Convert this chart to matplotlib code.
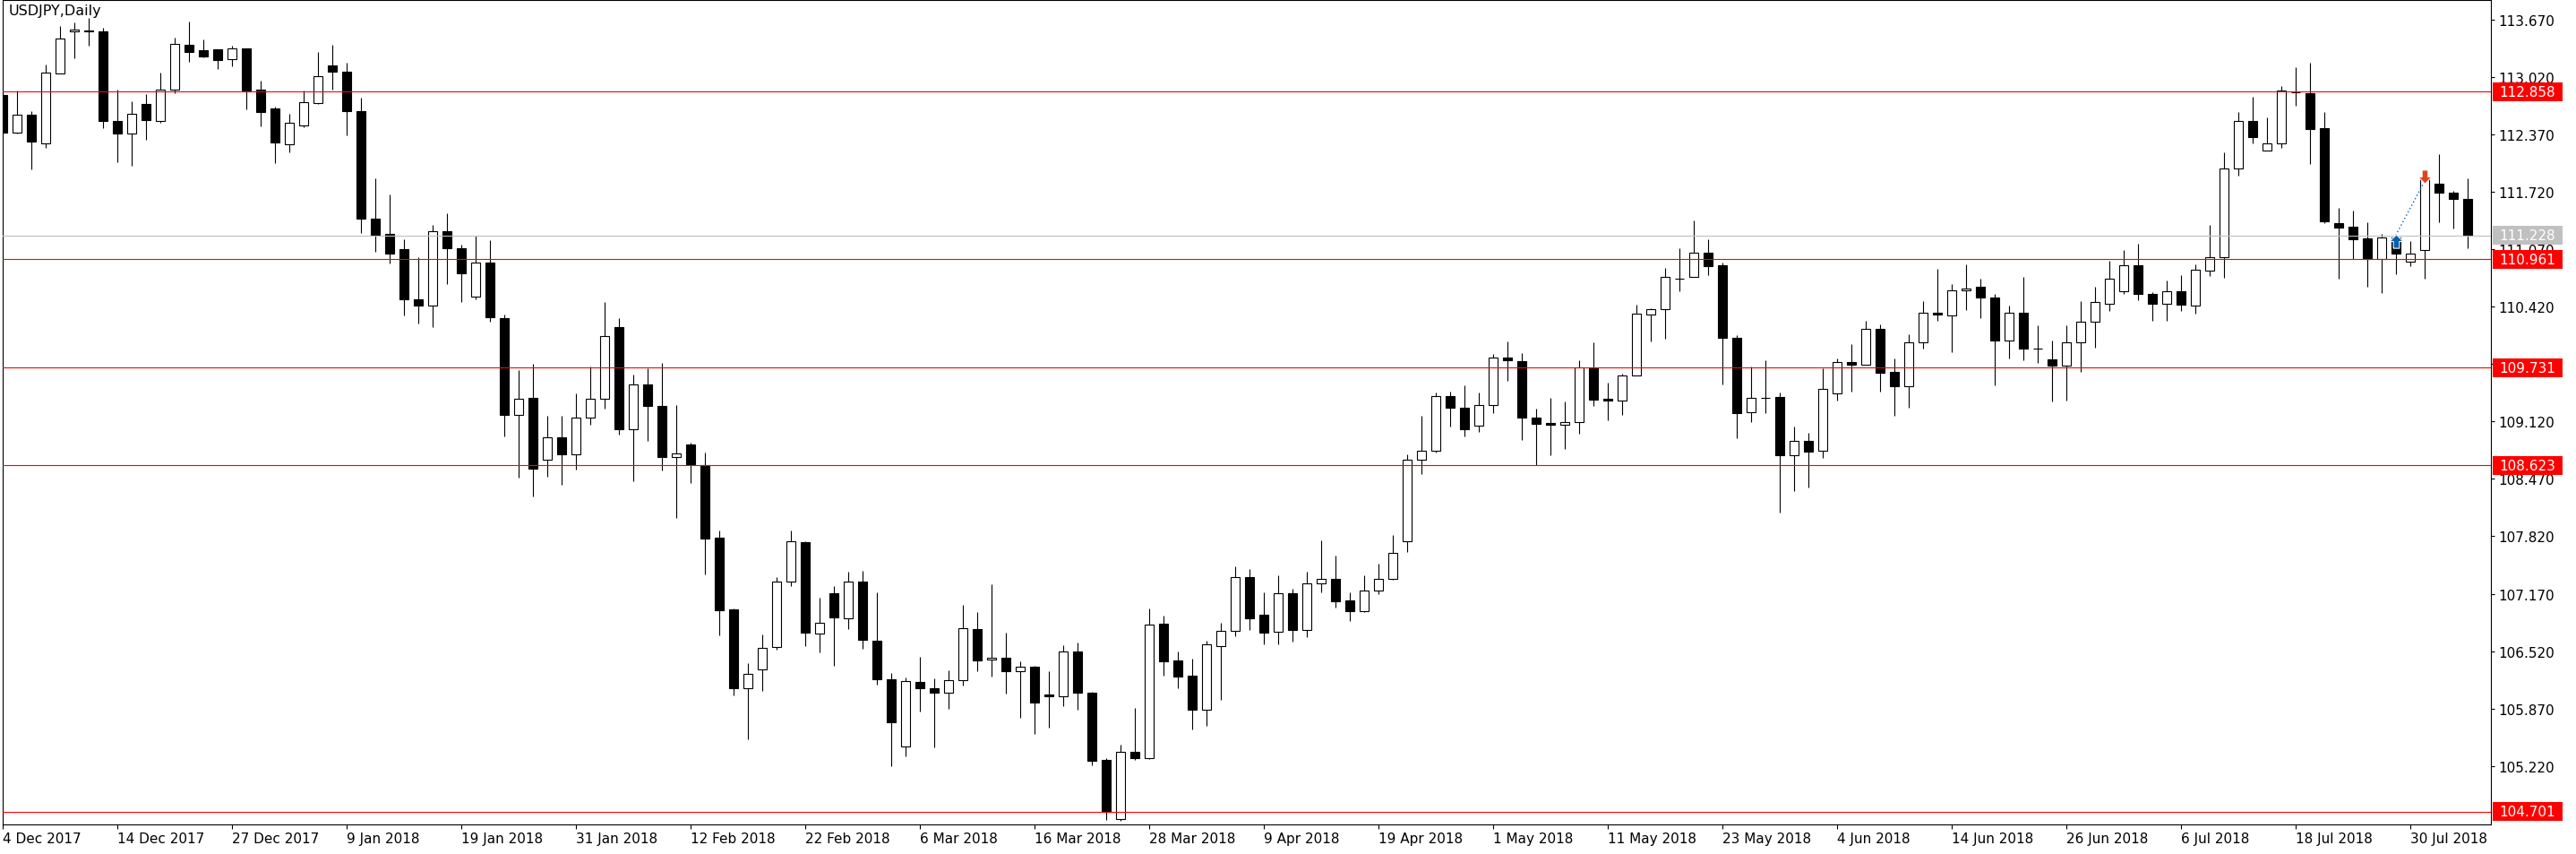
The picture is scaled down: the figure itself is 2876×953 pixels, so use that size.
import matplotlib
matplotlib.use("Agg")
import matplotlib.pyplot as plt
from matplotlib.patches import Rectangle
from matplotlib.path import Path

# ---------------- DATA (USDJPY daily) ---------------- #

opens = [
    112.82, 112.40, 112.60, 112.27, 113.07, 113.54, 113.55, 113.54, 112.53, 112.38,
    112.72, 112.53, 112.88, 113.39, 113.33, 113.34, 113.23, 113.35, 112.88, 112.67,
    112.26, 112.48, 112.73, 113.16, 113.09, 112.64, 111.42, 111.25, 111.07, 110.51,
    110.43, 111.28, 111.08, 110.54, 110.92, 110.29, 109.20, 109.39, 108.69, 108.94,
    108.75, 109.17, 109.38, 110.19, 109.03, 109.54, 109.30, 108.72, 108.86, 108.63,
    107.80, 106.99, 106.10, 106.31, 106.57, 107.31, 107.75, 106.72, 107.18, 106.89,
    107.31, 106.64, 106.20, 105.44, 106.17, 106.10, 106.05, 106.19, 106.77, 106.42,
    106.44, 106.29, 106.34, 106.03, 106.01, 106.51, 106.05, 105.29, 104.62, 105.38,
    105.31, 106.83, 106.41, 106.24, 105.85, 106.58, 106.75, 107.36, 106.93, 106.74,
    107.18, 106.76, 107.29, 107.34, 107.09, 106.97, 107.21, 107.34, 107.76, 108.69,
    108.79, 109.41, 109.28, 109.07, 109.31, 109.85, 109.81, 109.17, 109.10, 109.08,
    109.11, 109.73, 109.38, 109.36, 109.64, 110.33, 110.39, 110.74, 110.76, 111.03,
    110.89, 110.07, 109.23, 109.39, 109.40, 108.74, 108.90, 108.79, 109.44, 109.80,
    109.76, 110.17, 109.68, 109.52, 110.02, 110.35, 110.32, 110.61, 110.65, 110.53,
    110.04, 110.35, 109.95, 109.83, 109.75, 110.02, 110.25, 110.46, 110.60, 110.89,
    110.57, 110.46, 110.60, 110.43, 110.83, 110.98, 111.99, 112.53, 112.19, 112.27,
    112.85, 112.84, 112.45, 111.37, 111.33, 111.20, 110.96, 111.21, 110.93, 111.06,
    111.82, 111.71, 111.64,
]

highs = [
    112.84, 112.87, 112.64, 113.17, 113.60, 113.64, 113.69, 113.58, 112.88, 112.75,
    112.83, 113.08, 113.47, 113.65, 113.45, 113.34, 113.38, 113.35, 112.98, 112.69,
    112.61, 112.87, 113.31, 113.39, 113.19, 112.79, 111.88, 111.69, 111.19, 110.98,
    111.35, 111.48, 111.13, 111.23, 111.18, 110.33, 109.70, 109.77, 109.19, 109.19,
    109.44, 109.74, 110.48, 110.29, 109.65, 109.72, 109.78, 109.31, 108.88, 108.77,
    107.89, 107.00, 106.38, 106.71, 107.36, 107.89, 107.76, 107.12, 107.26, 107.42,
    107.43, 107.19, 106.27, 106.22, 106.45, 106.21, 106.30, 107.04, 106.96, 107.28,
    106.73, 106.40, 106.35, 106.29, 106.59, 106.62, 106.06, 105.31, 105.46, 105.88,
    107.00, 106.92, 106.52, 106.43, 106.64, 106.84, 107.48, 107.45, 107.19, 107.38,
    107.23, 107.42, 107.77, 107.60, 107.19, 107.38, 107.51, 107.84, 108.75, 109.19,
    109.45, 109.46, 109.53, 109.45, 109.89, 110.03, 109.90, 109.27, 109.39, 109.35,
    109.82, 110.02, 109.56, 109.66, 110.45, 110.40, 110.86, 111.08, 111.40, 111.19,
    110.92, 110.10, 109.74, 109.82, 109.45, 109.06, 108.99, 109.72, 109.84, 110.00,
    110.26, 110.22, 109.84, 110.11, 110.49, 110.85, 110.68, 110.90, 110.74, 110.57,
    110.44, 110.76, 110.21, 110.04, 110.21, 110.49, 110.65, 110.94, 111.06, 111.14,
    110.59, 110.72, 110.78, 110.90, 111.35, 112.17, 112.63, 112.80, 112.57, 112.92,
    113.14, 113.19, 112.63, 111.54, 111.51, 111.38, 111.25, 111.24, 111.17, 111.89,
    112.15, 111.73, 111.88,
]

lows = [
    112.38, 112.38, 111.98, 112.22, 113.07, 113.24, 113.38, 112.45, 112.06, 112.02,
    112.31, 112.51, 112.84, 113.20, 113.25, 113.12, 113.15, 112.66, 112.47, 112.05,
    112.17, 112.46, 112.72, 112.88, 112.36, 111.26, 111.04, 110.91, 110.32, 110.23,
    110.19, 110.68, 110.48, 110.51, 110.25, 108.95, 108.49, 108.27, 108.50, 108.40,
    108.58, 109.08, 109.27, 108.97, 108.44, 108.90, 108.57, 108.03, 108.42, 107.39,
    106.70, 106.02, 105.52, 106.07, 106.54, 107.26, 106.58, 106.50, 106.35, 106.77,
    106.55, 106.14, 105.22, 105.33, 105.83, 105.43, 105.86, 106.13, 106.29, 106.23,
    106.04, 105.76, 105.58, 105.65, 105.90, 105.85, 105.23, 104.61, 104.60, 105.29,
    105.30, 106.24, 106.10, 105.63, 105.67, 105.97, 106.69, 106.76, 106.60, 106.60,
    106.63, 106.68, 107.19, 107.01, 106.86, 106.96, 107.16, 107.33, 107.64, 108.53,
    108.77, 109.06, 108.95, 109.00, 109.22, 109.58, 108.91, 108.63, 108.74, 108.81,
    108.98, 109.30, 109.14, 109.20, 109.64, 110.03, 110.06, 110.60, 110.76, 110.78,
    109.54, 108.93, 109.11, 109.22, 108.09, 108.33, 108.37, 108.71, 109.36, 109.46,
    109.76, 109.46, 109.19, 109.28, 109.95, 110.26, 109.91, 110.38, 110.29, 109.53,
    109.84, 109.82, 109.79, 109.35, 109.36, 109.68, 109.96, 110.37, 110.57, 110.50,
    110.26, 110.26, 110.37, 110.34, 110.77, 110.75, 111.91, 112.27, 112.19, 112.22,
    112.70, 112.04, 111.37, 110.74, 110.96, 110.65, 110.58, 110.79, 110.88, 110.74,
    111.38, 111.31, 111.09,
]

closes = [
    112.40, 112.60, 112.29, 113.08, 113.46, 113.56, 113.54, 112.53, 112.38, 112.61,
    112.54, 112.88, 113.40, 113.31, 113.26, 113.22, 113.35, 112.86, 112.63, 112.28,
    112.51, 112.74, 113.03, 113.09, 112.64, 111.42, 111.24, 111.02, 110.51, 110.43,
    111.28, 111.08, 110.80, 110.92, 110.30, 109.20, 109.38, 108.59, 108.94, 108.75,
    109.17, 109.38, 110.09, 109.03, 109.54, 109.30, 108.72, 108.76, 108.64, 107.79,
    106.98, 106.10, 106.26, 106.56, 107.31, 107.76, 106.73, 106.84, 106.90, 107.31,
    106.65, 106.20, 105.71, 106.18, 106.10, 106.05, 106.19, 106.78, 106.41, 106.44,
    106.29, 106.34, 105.94, 106.01, 106.51, 106.05, 105.28, 104.70, 105.38, 105.31,
    106.82, 106.40, 106.23, 105.85, 106.60, 106.75, 107.36, 106.89, 106.73, 107.18,
    106.76, 107.29, 107.34, 107.08, 106.97, 107.21, 107.34, 107.63, 108.69, 108.79,
    109.41, 109.28, 109.03, 109.31, 109.85, 109.82, 109.17, 109.09, 109.08, 109.11,
    109.73, 109.37, 109.36, 109.64, 110.34, 110.39, 110.76, 110.74, 111.03, 110.88,
    110.07, 109.22, 109.39, 109.39, 108.74, 108.90, 108.78, 109.49, 109.80, 109.76,
    110.17, 109.67, 109.52, 110.02, 110.35, 110.33, 110.61, 110.63, 110.53, 110.04,
    110.35, 109.95, 109.95, 109.75, 110.02, 110.25, 110.48, 110.74, 110.89, 110.57,
    110.46, 110.60, 110.45, 110.84, 110.98, 111.99, 112.53, 112.34, 112.27, 112.87,
    112.85, 112.44, 111.39, 111.32, 111.19, 110.96, 111.21, 111.02, 111.02, 111.87,
    111.71, 111.64, 111.228,
]

date_labels = [
    "4 Dec 2017", "14 Dec 2017", "27 Dec 2017", "9 Jan 2018", "19 Jan 2018",
    "31 Jan 2018", "12 Feb 2018", "22 Feb 2018", "6 Mar 2018", "16 Mar 2018",
    "28 Mar 2018", "9 Apr 2018", "19 Apr 2018", "1 May 2018", "11 May 2018",
    "23 May 2018", "4 Jun 2018", "14 Jun 2018", "26 Jun 2018", "6 Jul 2018",
    "18 Jul 2018", "30 Jul 2018",
]

price_ticks = [113.670, 113.020, 112.370, 111.720, 111.070, 110.420, 109.770,
               109.120, 108.470, 107.820, 107.170, 106.520, 105.870, 105.220]

levels = [112.858, 110.961, 109.731, 108.623, 104.701]
bid = 111.228

# trade arrows (bar index, price)
buy_bar, buy_price = 167, 111.17
sell_bar, sell_price = 169, 111.90

# ---------------- FIGURE ---------------- #

W, H = 2876, 954
fig = plt.figure(figsize=(W / 100, H / 100), dpi=100)
plot_l, plot_r, plot_t, plot_b = 2.7, 2780.7, 1.0, 921.0
ax = fig.add_axes([plot_l / W, (H - plot_b) / H, (plot_r - plot_l) / W, (plot_b - plot_t) / H])

n = len(opens)
ax.set_xlim(0, (plot_r - plot_l) / 16)
ax.set_ylim(104.555, 113.898)

# candles
bw = 0.64
for i in range(n):
    o, h, l, c = opens[i], highs[i], lows[i], closes[i]
    ax.vlines(i, l, h, color="black", lw=0.8, zorder=3)
    face = "black" if c < o else "white"
    ax.add_patch(Rectangle((i - bw / 2, min(o, c)), bw, abs(c - o),
                           facecolor=face, edgecolor="black", lw=0.8, zorder=4))

# horizontal levels + bid line
for p in levels:
    ax.axhline(p, color="#ff0000", lw=0.8, zorder=5)
ax.axhline(bid, color="#c0c0c0", lw=0.8, zorder=5)

# trade arrows
up = Path([(-0.22, -0.5), (0.22, -0.5), (0.22, 0.0), (0.5, 0.0), (0.0, 0.5),
           (-0.5, 0.0), (-0.22, 0.0), (-0.22, -0.5)])
down = Path([(x, -y) for x, y in up.vertices])
ax.plot([buy_bar, sell_bar], [buy_price + 0.06, sell_price - 0.06], color="#0060b0",
        lw=1, ls=(0, (1, 2)), zorder=6)
ax.plot(buy_bar, buy_price, marker=up, ms=11, color="#0060b0", mec="white", mew=0.8, zorder=7)
ax.plot(sell_bar, sell_price, marker=down, ms=11, color="#e0441c", mec="white", mew=0.8, zorder=7)

# ---------------- AXES ---------------- #

for s in ax.spines.values():
    s.set_linewidth(0.8)
    s.set_color("black")

ax.set_xticks(range(0, 8 * len(date_labels), 8))
ax.set_xticklabels(date_labels, ha="left")
ax.tick_params(axis="x", length=3.6, width=0.8, pad=2, labelsize=11)

ax.yaxis.tick_right()
ax.set_yticks(price_ticks)
ax.set_yticklabels([f"{t:.3f}" for t in price_ticks])
ax.tick_params(axis="y", length=3, width=0.8, pad=3, labelsize=11)

# price boxes on the right scale
trans = ax.get_yaxis_transform()
box_x = (2782.7 - plot_l) / (plot_r - plot_l)
box_w = 78 / (plot_r - plot_l)
box_h = 21 / 98.5
for p, col in [(lv, "#ff0000") for lv in levels] + [(bid, "#c0c0c0")]:
    ax.add_patch(Rectangle((box_x, p - box_h / 2), box_w, box_h, transform=trans,
                           facecolor=col, edgecolor="none", clip_on=False, zorder=8))
    ax.text(box_x + box_w / 2, p, f"{p:.3f}", transform=trans, ha="center", va="center",
            color="white", fontsize=11, clip_on=False, zorder=9)

ax.text(7 / (plot_r - plot_l), 1 - 4 / (plot_b - plot_t), "USDJPY,Daily",
        transform=ax.transAxes, ha="left", va="top", fontsize=11.5, zorder=9)

fig.savefig("out.png", dpi=100)
